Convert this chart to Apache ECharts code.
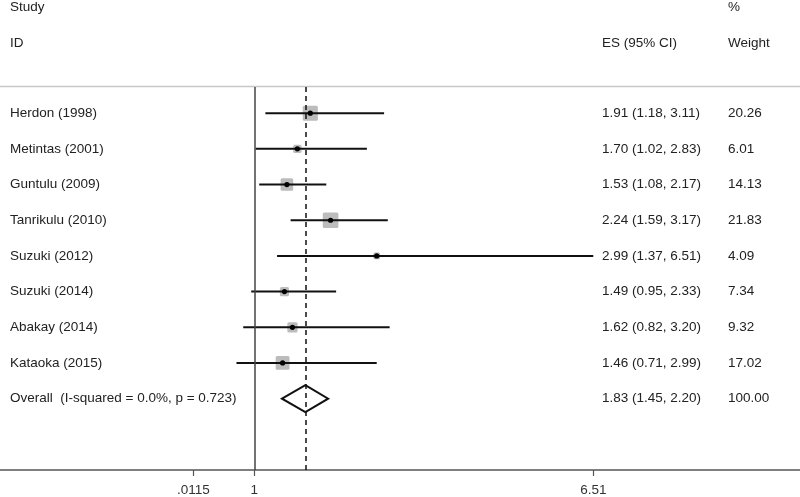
<!DOCTYPE html>
<html>
<head>
<meta charset="utf-8">
<script src="https://cdn.jsdelivr.net/npm/echarts@6/dist/echarts.min.js"></script>
<style>html,body{margin:0;padding:0;background:#fff}#c{width:800px;height:497px}</style>
</head>
<body>
<div id="c"></div>
<script>
const studies = ['Herdon (1998)', 'Metintas (2001)', 'Guntulu (2009)', 'Tanrikulu (2010)', 'Suzuki (2012)', 'Suzuki (2014)', 'Abakay (2014)', 'Kataoka (2015)'];
const esValues = [1.91, 1.70, 1.53, 2.24, 2.99, 1.49, 1.62, 1.46];
const ciLow = [1.18, 1.02, 1.08, 1.59, 1.37, 0.95, 0.82, 0.71];
const ciHigh = [3.11, 2.83, 2.17, 3.17, 6.51, 2.33, 3.20, 2.99];
const weights = [20.26, 6.01, 14.13, 21.83, 4.09, 7.34, 9.32, 17.02];
const overallLabel = 'Overall  (I-squared = 0.0%, p = 0.723)';
const overallValues = [1.83, 1.45, 2.20, 100.00]; // es, low, high, weight
const nullValue = 1;
const tickValues = [0.0115, 1, 6.51];
const tickLabels = ['.0115', '1', '6.51'];
const headers = [['Study', 'ID'], ['ES (95% CI)'], ['%', 'Weight']];

const FONT = '"Liberation Sans", Arial, sans-serif';
const FS = 13.5;
const TXT = '#222';
const X_NAME = 10, X_ES = 602, X_W = 728;

function fmt(v) { return v.toFixed(2); }
function ciText(e, l, h) { return fmt(e) + ' (' + fmt(l) + ', ' + fmt(h) + ')'; }

const studyData = studies.map((s, i) => [i, esValues[i], ciLow[i], ciHigh[i], weights[i]]);
const overallRow = studies.length;

function txt(x, y, t) {
  return { type: 'text', style: { x: x, y: y, text: t, fill: TXT, font: FS + 'px ' + FONT, verticalAlign: 'middle', textAlign: 'left' } };
}

const chart = echarts.init(document.getElementById('c'), null, { renderer: 'canvas' });
chart.setOption({
  animation: false,
  backgroundColor: '#fff',
  grid: { left: 0, right: 0, top: 87, bottom: 25 },
  xAxis: {
    type: 'value',
    min: 1 - 254.3 / 61.52,
    max: 1 + (800 - 254.3) / 61.52,
    splitLine: { show: false },
    axisLine: { show: true, onZero: false, lineStyle: { color: '#555', width: 1.5 } },
    axisTick: { show: true, customValues: tickValues, length: 6, lineStyle: { color: '#555', width: 1.2 } },
    axisLabel: {
      show: true, customValues: tickValues, margin: 13,
      color: '#333', fontSize: FS, fontFamily: FONT,
      formatter: function (v) { const k = tickValues.findIndex(t => Math.abs(t - v) < 1e-6); return k >= 0 ? tickLabels[k] : ''; }
    }
  },
  yAxis: { type: 'value', inverse: true, min: -0.734, max: 10.0, show: false, splitLine: { show: false } },
  graphic: [
    txt(X_NAME, 7, headers[0][0]), txt(X_NAME, 43, headers[0][1]),
    txt(X_ES, 43, headers[1][0]),
    txt(X_W, 7, headers[2][0]), txt(X_W, 43, headers[2][1]),
    { type: 'line', shape: { x1: 0, y1: 86.5, x2: 800, y2: 86.5 }, style: { stroke: '#c8c8c8', lineWidth: 1.5 } }
  ],
  series: [
    {
      type: 'custom', z: 1, silent: true,
      data: [[0]],
      renderItem: function () { return { type: 'group', children: [] }; },
      markLine: {
        silent: true, symbol: 'none', label: { show: false },
        data: [
          { xAxis: nullValue, lineStyle: { color: '#444', width: 1.5, type: 'solid' } },
          { xAxis: overallValues[0], lineStyle: { color: '#111', width: 1.5, type: [5, 4] } }
        ]
      }
    },
    {
      type: 'custom', z: 3, silent: true,
      encode: { x: [1, 2, 3], y: 0 },
      data: studyData,
      renderItem: function (params, api) {
        const row = api.value(0), e = api.value(1), l = api.value(2), h = api.value(3), w = api.value(4);
        const pe = api.coord([e, row]), pl = api.coord([l, row]), ph = api.coord([h, row]);
        const side = 3.35 * Math.sqrt(w);
        const y = pe[1];
        return {
          type: 'group',
          children: [
            { type: 'rect', shape: { x: pe[0] - side / 2, y: y - side / 2, width: side, height: side, r: 1.5 }, style: { fill: '#bcbcbc' } },
            { type: 'line', shape: { x1: pl[0], y1: y, x2: ph[0], y2: y }, style: { stroke: '#111', lineWidth: 2 } },
            { type: 'circle', shape: { cx: pe[0], cy: y, r: 2.6 }, style: { fill: '#000' } },
            txt(X_NAME, y, studies[params.dataIndex]),
            txt(X_ES, y, ciText(e, l, h)),
            txt(X_W, y, fmt(w))
          ]
        };
      }
    },
    {
      type: 'custom', z: 3, silent: true,
      encode: { x: [1, 2, 3], y: 0 },
      data: [[overallRow, overallValues[0], overallValues[1], overallValues[2], overallValues[3]]],
      renderItem: function (params, api) {
        const row = api.value(0), e = api.value(1), l = api.value(2), h = api.value(3), w = api.value(4);
        const pe = api.coord([e, row]), pl = api.coord([l, row]), ph = api.coord([h, row]);
        const y = pe[1], hh = 13.5;
        return {
          type: 'group',
          children: [
            { type: 'polygon', shape: { points: [[pl[0], y], [pe[0], y - hh], [ph[0], y], [pe[0], y + hh]] }, style: { fill: '#fff', stroke: '#111', lineWidth: 2, lineJoin: 'miter' } },
            txt(X_NAME, y, overallLabel),
            txt(X_ES, y, ciText(e, l, h)),
            txt(X_W, y, w.toFixed(2))
          ]
        };
      }
    }
  ]
});
</script>
</body>
</html>
